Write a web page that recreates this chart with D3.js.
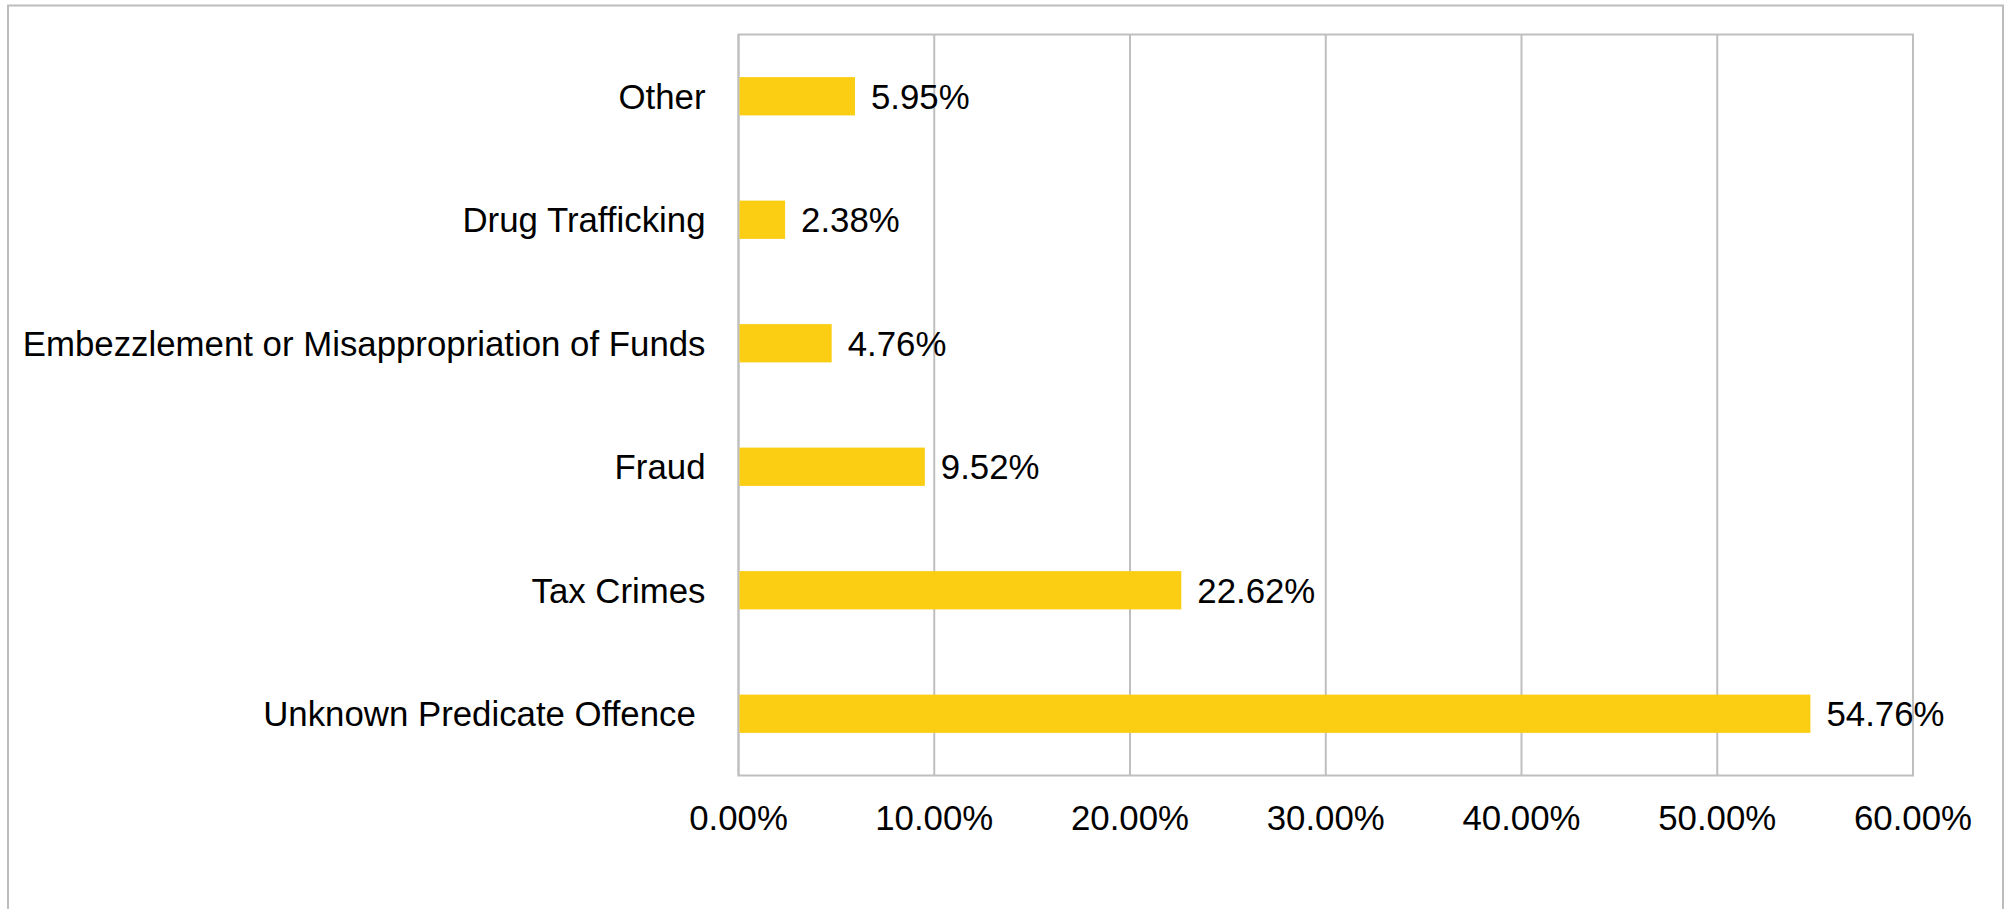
<!DOCTYPE html>
<html>
<head>
<meta charset="utf-8">
<script src="https://cdn.jsdelivr.net/npm/d3@7"></script>
<style>
  body { margin: 0; background: #fff; }
  text { font-family: "Liberation Sans", Arial, sans-serif; fill: #000; }
</style>
</head>
<body>
<div id="chart"></div>
<script>
// categories, top to bottom as drawn
var categories = ["Other", "Drug Trafficking", "Embezzlement or Misappropriation of Funds",
                  "Fraud", "Tax Crimes", "Unknown Predicate Offence "];
// share of cases, percent
var values = [5.95, 2.38, 4.76, 9.52, 22.62, 54.76];
var ticks = [0, 10, 20, 30, 40, 50, 60];

var width = 2009, height = 909;
var margin = {top: 34.5, right: 96, bottom: 133.5, left: 738.5};
var fontSize = "34.8px";

var svg = d3.select("#chart").append("svg")
	.attr("width", width)
	.attr("height", height);

// outer frame (bottom edge runs off the picture)
svg.append("path")
	.attr("d", "M8," + (height + 5) + " V5.5 H2003 V" + (height + 5))
	.attr("fill", "none")
	.attr("stroke", "#bdbdbd")
	.attr("stroke-width", 2);

var x = d3.scaleLinear()
	.domain([0, 60])
	.range([margin.left, width - margin.right]);

var y = d3.scaleBand()
	.domain(categories)
	.range([margin.top, height - margin.bottom])
	.paddingInner(0.69)
	.paddingOuter(0.345);

// vertical gridlines
svg.append("g").selectAll("line")
	.data(ticks)
	.enter().append("line")
	.attr("x1", function(d){ return x(d); })
	.attr("x2", function(d){ return x(d); })
	.attr("y1", margin.top)
	.attr("y2", height - margin.bottom)
	.attr("stroke", "#bfbfbf")
	.attr("stroke-width", 2);

// plot border
svg.append("rect")
	.attr("x", x(0))
	.attr("y", margin.top)
	.attr("width", x(60) - x(0))
	.attr("height", height - margin.bottom - margin.top)
	.attr("fill", "none")
	.attr("stroke", "#bfbfbf")
	.attr("stroke-width", 2);

// bars
svg.append("g").selectAll("rect")
	.data(values)
	.enter().append("rect")
	.attr("x", x(0) + 1)
	.attr("y", function(d, i){ return y(categories[i]); })
	.attr("width", function(d){ return x(d) - x(0) - 1; })
	.attr("height", y.bandwidth())
	.attr("fill", "#fbcd13");

// value labels
svg.append("g").selectAll("text")
	.data(values)
	.enter().append("text")
	.attr("x", function(d){ return x(d) + 16; })
	.attr("y", function(d, i){ return y(categories[i]) + y.bandwidth() / 2; })
	.attr("dy", "0.36em")
	.attr("font-size", fontSize)
	.text(function(d){ return d.toFixed(2) + "%"; });

// category labels
svg.append("g").selectAll("text")
	.data(categories)
	.enter().append("text")
	.attr("x", margin.left - 33)
	.attr("y", function(d){ return y(d) + y.bandwidth() / 2; })
	.attr("dy", "0.36em")
	.attr("text-anchor", "end")
	.attr("font-size", fontSize)
	.attr("xml:space", "preserve")
	.style("white-space", "pre")
	.text(function(d){ return d; });

// x tick labels
svg.append("g").selectAll("text")
	.data(ticks)
	.enter().append("text")
	.attr("x", function(d){ return x(d); })
	.attr("y", 830)
	.attr("text-anchor", "middle")
	.attr("font-size", fontSize)
	.text(function(d){ return d.toFixed(2) + "%"; });
</script>
</body>
</html>
